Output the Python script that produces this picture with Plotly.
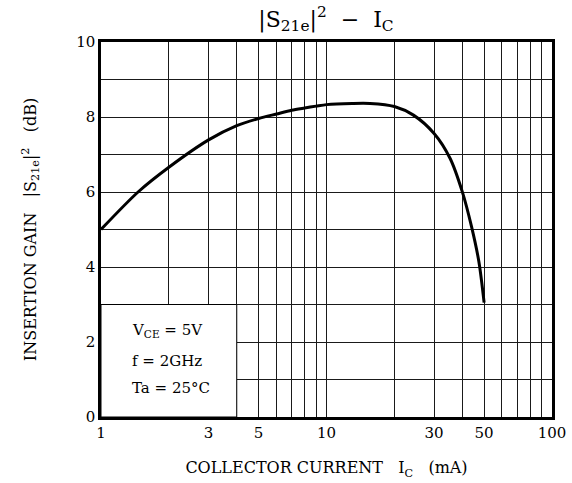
import plotly.graph_objects as go

# Data
ic_ma = [1, 1.46, 2, 3, 4, 5, 6, 7, 8, 9, 10, 13, 15.6, 20, 24.3, 30, 35.3, 40, 44, 47.4, 50]
gain_db = [5.0, 6.0, 6.66, 7.39, 7.77, 7.96, 8.08, 8.18, 8.24, 8.29, 8.33, 8.36, 8.36, 8.28, 8.05, 7.56, 6.9, 6.01, 5.07, 4.14, 3.05]

x_grid = [1, 2, 3, 4, 5, 6, 7, 8, 9, 10, 20, 30, 40, 50, 60, 70, 80, 90, 100]
x_labels = {1: "1", 3: "3", 5: "5", 10: "10", 30: "30", 50: "50", 100: "100"}
y_grid = list(range(0, 11))
y_labels = {0: "0", 2: "2", 4: "4", 6: "6", 8: "8", 10: "10"}

FONT = "DejaVu Serif"

fig = go.Figure()
fig.add_trace(go.Scatter(
    x=ic_ma, y=gain_db, mode="lines",
    line=dict(color="black", width=3, shape="spline", smoothing=0.8),
    showlegend=False, hoverinfo="skip",
))

fig.update_layout(
    width=572, height=483,
    margin=dict(l=101, r=20, t=42, b=66),
    paper_bgcolor="white", plot_bgcolor="white",
    font=dict(family=FONT, size=15, color="black"),
    title=dict(
        text="|S<sub>21e</sub>|<sup>2</sup>  −  I<sub>C</sub>",
        x=326 / 572, xanchor="center", y=1 - 19 / 483, yanchor="middle",
        font=dict(family=FONT, size=22, color="black"),
    ),
    xaxis=dict(
        type="log", range=[0, 2], automargin=False,
        tickmode="array", tickvals=x_grid,
        ticktext=[x_labels.get(v, "") for v in x_grid],
        showgrid=True, gridcolor="#1a1a1a", gridwidth=1,
        showline=True, linecolor="black", linewidth=2.5, mirror=True,
        ticks="", zeroline=False,
        tickfont=dict(family=FONT, size=15, color="black"),
        title=dict(text="COLLECTOR CURRENT   I<sub>C</sub>   (mA)",
                   font=dict(family=FONT, size=16, color="black"), standoff=22),
    ),
    yaxis=dict(
        range=[0, 10], automargin=False,
        tickmode="array", tickvals=y_grid,
        ticktext=[y_labels.get(v, "") for v in y_grid],
        showgrid=True, gridcolor="#1a1a1a", gridwidth=1,
        showline=True, linecolor="black", linewidth=2.5, mirror=True,
        ticks="", zeroline=False,
        tickfont=dict(family=FONT, size=15, color="black"),
        title=dict(text="INSERTION GAIN   |S<sub>21e</sub>|<sup>2</sup>   (dB)",
                   font=dict(family=FONT, size=16, color="black"), standoff=36),
    ),
)

# white condition box in the lower-left corner
fig.add_shape(type="rect", xref="x", yref="y", x0=1, x1=4, y0=0, y1=3,
              fillcolor="white", line=dict(color="black", width=1), layer="between")

conds = ["V<sub>CE</sub> = 5V", "f = 2GHz", "Ta = 25°C"]
ypos = [0.232, 0.149, 0.077]
for t, yy in zip(conds, ypos):
    fig.add_annotation(text=t, xref="paper", yref="paper", x=0.064, y=yy,
                       xanchor="left", yanchor="middle", showarrow=False,
                       font=dict(family=FONT, size=15, color="black"))

fig.write_html("out.html", config={"displayModeBar": False},
               post_script="document.body.style.margin='0';document.body.style.overflow='hidden';")
